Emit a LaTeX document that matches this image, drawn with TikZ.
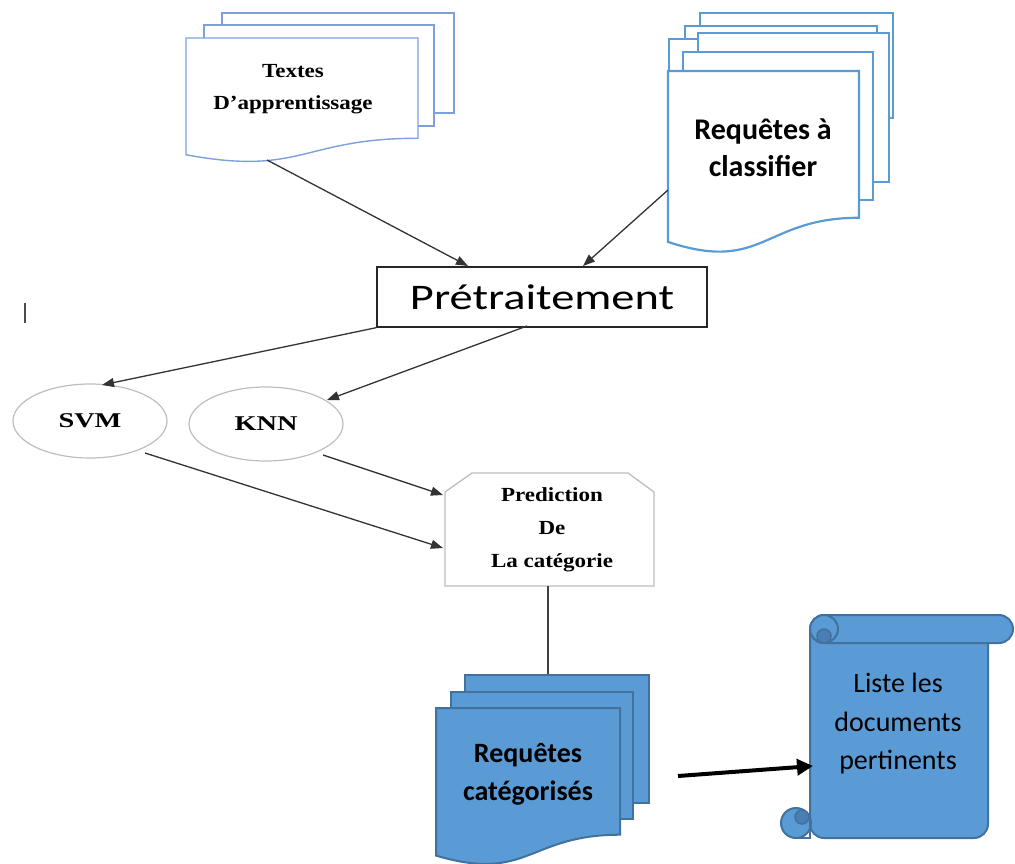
\documentclass[tikz,border=0pt]{standalone}
\usepackage{fontspec}
\usetikzlibrary{shapes.geometric,arrows.meta}
\setmainfont{Liberation Serif}
\newfontfamily\serifS[FakeStretch=1.15]{Liberation Serif}
\newfontfamily\serifW[FakeStretch=1.35]{Liberation Serif}
\newfontfamily\calib{Carlito}
\newfontfamily\calibW[FakeStretch=1.29]{Carlito}

\definecolor{paleline}{HTML}{7DA0DC}
\definecolor{docline}{HTML}{5B9BD5}
\definecolor{bluefill}{HTML}{5B9BD5}
\definecolor{bluedark}{HTML}{41719C}
\definecolor{curlfill}{HTML}{4A7FB5}
\definecolor{softgray}{HTML}{BDBDBD}

% document sheet with a wavy lower edge: style, left, top, width, height
\newcommand\docsheet[5]{%
  \pgfmathsetmacro\dsR{#2+#4}\pgfmathsetmacro\dsM{#2+0.5*#4}%
  \pgfmathsetmacro\dsA{#3+0.802*#5}\pgfmathsetmacro\dsB{#3+1.107*#5}%
  \pgfmathsetmacro\dsC{#3+0.934*#5}%
  \draw[#1] (#2,#3) -- (\dsR,#3) -- (\dsR,\dsA)
    .. controls (\dsM,\dsA) and (\dsM,\dsB) .. (#2,\dsC) -- cycle;}

\begin{document}
\begin{tikzpicture}[x=1pt,y=-1pt,
  paper/.style={draw=paleline, line width=1.4, fill=white},
  sheet/.style={draw=docline, line width=2.2, fill=white},
  bluesheet/.style={draw=bluedark, line width=2, fill=bluefill},
  scroll/.style={draw=bluedark, line width=2, fill=bluefill},
  curl/.style={draw=bluedark, line width=1.5, fill=curlfill},
  arr/.style={draw=black!80, line width=1.3, -{Triangle[length=12,width=9]}},
  bigarr/.style={draw=black, line width=4, -{Triangle[length=16,width=16]}},
  oval/.style={ellipse, draw=softgray, line width=1.2, minimum width=154, minimum height=74, inner sep=0},
  lbl/.style={align=center, inner sep=0}]

\useasboundingbox (0,0) rectangle (1015,864);

% training texts stack
\draw[paper] (222,13) rectangle (454,113);
\draw[paper] (204,25) rectangle (434,126);
\docsheet{paper}{186}{38}{232}{125}
\node[lbl, font=\serifS\bfseries\fontsize{20}{32}\selectfont] (train) at (293,89) {Textes\\D’apprentissage};

% queries to classify stack
\draw[sheet, line width=1.6] (700,13) rectangle (893,118);
\draw[sheet, line width=1.6] (685,26) rectangle (877,130);
\draw[sheet, line width=1.6] (669,39) rectangle (860,145);
\draw[sheet] (698,33) rectangle (889,182);
\draw[sheet] (683,52) rectangle (873,200);
\docsheet{sheet}{668}{71}{191}{183}
\node[lbl, font=\calib\bfseries\fontsize{30}{37}\selectfont] (query) at (763,148) {Requêtes à\\classifier};

% preprocessing box
\node[draw=black!85, line width=1.3, minimum width=330, minimum height=60, inner sep=0] (pre) at (542,297)
  {\calibW\fontsize{36}{40}\selectfont Prétraitement};

\coordinate (train-out) at (267,160);
\coordinate (query-out) at (668,190);
\coordinate (pre-in1) at (468,266);
\coordinate (pre-in2) at (583,266);
\draw[arr] (train-out) -- (pre-in1);
\draw[arr] (query-out) -- (pre-in2);

% classifiers
\node[oval, font=\serifW\bfseries\fontsize{21}{24}\selectfont] (svm) at (90,421) {SVM};
\node[oval, font=\serifW\bfseries\fontsize{21}{24}\selectfont] (knn) at (266,424) {KNN};

\coordinate (pre-out2) at (527,326);
\coordinate (svm-in) at (102,385);
\coordinate (knn-in) at (327,400);
\draw[arr] (pre.south west) -- (svm-in);
\draw[arr] (pre-out2) -- (knn-in);

% prediction block
\draw[draw=softgray, line width=1.3, fill=white]
  (445,492) -- (472,473) -- (628,473) -- (654,492) -- (654,586) -- (445,586) -- cycle;
\node[lbl, font=\serifS\bfseries\fontsize{20}{33}\selectfont] (pred) at (552,530) {Prediction\\De\\La catégorie};

\coordinate (svm-out) at (145,453);
\coordinate (knn-out) at (323,455);
\coordinate (pred-in1) at (443,495);
\coordinate (pred-in2) at (443,548);
\draw[arr] (knn-out) -- (pred-in1);
\draw[arr] (svm-out) -- (pred-in2);

% categorised queries stack
\coordinate (pred-out) at (548,586);
\coordinate (cat-in) at (548,675);
\draw[draw=black!75, line width=1.3] (pred-out) -- (cat-in);

\draw[bluesheet] (465,675) rectangle (649,803);
\draw[bluesheet] (451,692) rectangle (633,819);
\docsheet{bluesheet}{436}{708}{184}{158}
\node[lbl, font=\calib\bfseries\fontsize{28}{38}\selectfont] (cat) at (528,774) {Requêtes\\catégorisés};

% scroll with the resulting list
\draw[scroll, rounded corners=14] (810,629) -- (810,838) -- (988,838) -- (988,640);
\draw[scroll, rounded corners=14] (810,615) rectangle (1013,643);
\draw[scroll] (824,629) circle[radius=14];
\draw[curl] (824,636) circle[radius=7];
\draw[scroll] (796,823) circle[radius=15];
\draw[curl] (802,817) circle[radius=7];
\draw[bluedark, line width=2] (810,808) -- (810,838) -- (796,838);
\node[lbl, font=\calib\fontsize{28}{38.5}\selectfont] (list) at (898,724) {Liste les\\documents\\pertinents};

\coordinate (cat-out) at (678,776);
\coordinate (list-in) at (813,766);
\draw[bigarr] (cat-out) -- (list-in);

% stray text cursor
\draw[black!70, line width=2] (25,303) -- (25,323);
\end{tikzpicture}
\end{document}
